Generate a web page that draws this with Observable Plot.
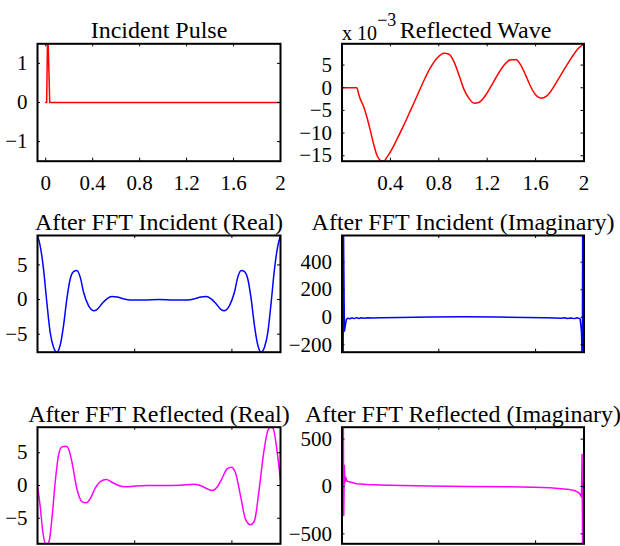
<!DOCTYPE html>
<html><head><meta charset="utf-8">
<script src="https://cdn.jsdelivr.net/npm/d3@7"></script>
<script src="https://cdn.jsdelivr.net/npm/@observablehq/plot@0.6"></script>
<style>
html,body{margin:0;padding:0;background:#fff;}
#chart{position:relative;width:620px;height:546px;overflow:hidden;}
#chart svg{position:absolute;left:0;top:0;}
</style></head><body><div id="chart"></div>
<script>
// ---- Data ----
const titles = ["Incident Pulse", "Reflected Wave", "After FFT Incident (Real)", "After FFT Incident (Imaginary)", "After FFT Reflected (Real)", "After FFT Reflected (Imaginary)"];
const exponentLabel = ["x 10", "\u22123"];

// Panel 1: incident pulse (time)
const pulseT = [0, 0.008, 0.017, 0.034, 2];
const pulseV = [0, 0, 2, 0, 0];

// Panel 2: reflected wave (values in units of 10^-3)
const reflT = [0, 0.123, 0.137, 0.15, 0.178, 0.206, 0.234, 0.261, 0.289, 0.317, 0.344, 0.372, 0.414, 0.455, 0.51, 0.566, 0.622, 0.677, 0.732, 0.788, 0.843, 0.885, 0.926, 0.968, 1.009, 1.051, 1.092, 1.134, 1.175, 1.231, 1.287, 1.342, 1.397, 1.439, 1.48, 1.522, 1.564, 1.605, 1.647, 1.688, 1.73, 1.786, 1.84, 1.896, 1.95, 2.0];
const reflV = [0, 0, -1.3, -2.4, -4.1, -6.5, -9.4, -12.4, -14.9, -16.0, -16.2, -15.3, -13.5, -11.3, -8.3, -5.0, -1.7, 1.6, 4.5, 6.6, 7.6, 7.4, 5.7, 2.7, -0.4, -2.4, -3.4, -3.2, -2.1, 0.3, 2.9, 5.1, 6.2, 6.2, 4.9, 2.5, 0, -1.7, -2.3, -1.9, -0.6, 1.8, 4.2, 6.6, 8.6, 9.7];

// Panel 3: FFT incident, real part
const incReIdx = [0, 27, 62, 96, 130, 165, 199, 233, 268, 302, 337, 371, 405, 440, 474, 525, 577, 611, 663, 714, 766, 817, 886, 955, 1092, 1250, 1408, 1545, 1614, 1683, 1734, 1786, 1837, 1889, 1923, 1975, 2026, 2060, 2095, 2129, 2163, 2198, 2232, 2267, 2301, 2335, 2370, 2404, 2438, 2473, 2500];
const incReV = [9.2, 7.8, 4.4, -0.4, -4.7, -6.9, -7.6, -6.6, -3.75, 0.1, 3.0, 4.04, 4.2, 3.2, 1.06, -0.87, -1.6, -1.44, -0.6, 0.1, 0.43, 0.38, 0.1, -0.05, -0.05, 0, -0.05, -0.05, 0.1, 0.38, 0.43, 0.1, -0.6, -1.44, -1.6, -0.87, 1.06, 3.2, 4.2, 4.04, 3.0, 0.1, -3.75, -6.6, -7.6, -6.9, -4.7, -0.4, 4.4, 7.8, 9.2];

// Panel 4: FFT incident, imaginary part
const incImIdx = [0, 12, 16, 25, 45, 62, 80, 100, 127, 150, 175, 196, 230, 265, 320, 400, 600, 900, 1250, 1600, 1900, 2100, 2200, 2262, 2300, 2330, 2365, 2400, 2430, 2460, 2474, 2479, 2483, 2486, 2500];
const incImV = [-254, -254, 594, -100, -15, -6, -12, -4, -10, -3, -9, -4, -8, -4, -6, -3, -1, 1, 3, 1, -1, -3, -5, -8, -4, -9, -5, -10, -4, -12, -105, -254, -254, 594, 594];

// Panel 5: FFT reflected, real part
const refReIdx = [0, 27, 55, 79, 103, 124, 148, 182, 216, 251, 295, 319, 354, 405, 457, 501, 543, 594, 646, 707, 766, 834, 903, 989, 1126, 1298, 1470, 1607, 1676, 1745, 1796, 1847, 1899, 1951, 1995, 2036, 2088, 2139, 2191, 2232, 2277, 2328, 2370, 2397, 2424, 2466, 2500];
const refReV = [0, -3.1, -7.1, -8.8, -8.9, -8.2, -5.1, 0.5, 4.6, 5.9, 6.0, 5.6, 3.6, -0.5, -2.45, -2.65, -2.0, -0.4, 0.6, 0.9, 0.5, 0, -0.2, -0.1, 0, 0, 0.05, 0.2, 0, -0.5, -0.77, -0.26, 1.1, 2.55, 2.8, 2.0, -1.5, -5.1, -6.0, -5.4, -1.0, 5.1, 8.4, 8.9, 8.7, 5.1, 0.8];

// Panel 6: FFT reflected, imaginary part
const refImIdx = [0, 14, 18, 24, 30, 38, 52, 93, 150, 265, 400, 609, 900, 1298, 1700, 1986, 2150, 2262, 2350, 2400, 2440, 2462, 2474, 2480, 2485, 2500];
const refImV = [626, 626, -306, 222, 40, 98, 55, 45, 30, 21, 15, 10, 5, 0, -3, -7, -14, -24, -33, -42, -62, -85, -110, 338, -605, -605];

// Axis ticks
const timeTicks = [0, 0.4, 0.8, 1.2, 1.6, 2];
const reflXTicks = [0.4, 0.8, 1.2, 1.6, 2];
const idxTicks = [1000, 2000];
const pulseYTicks = [-1, 0, 1];
const reflYTicks = [-15, -10, -5, 0, 5];
const reYTicks = [-5, 0, 5];
const incImYTicks = [-200, 0, 200, 400];
const refImYTicks = [-500, 0, 500];

// ---- Layout ----
const W = 620, H = 546;
const colL = [37, 280], colR = [341.5, 583.5];
const rows = [[43.3, 160.7], [235, 351.7], [426.7, 543.3]];
const FONT = "'Liberation Serif', 'Times New Roman', Times, serif";
const fmt = d => String(d).replace("-", "\u2212");

function panel({col, row, x, y, xDomain, yDomain, xTicks, yTicks, xLabels, color, curve = "linear", title, titleDx = 0, extra = []}) {
  const [l, r] = col, [t, b] = row;
  const fw = r - l, fh = b - t, tl = 3;
  const data = x.map((xx, i) => ({x: xx, y: y[i]}));
  return Plot.plot({
    width: W, height: H,
    marginLeft: l, marginRight: W - r, marginTop: t, marginBottom: H - b,
    style: {fontFamily: FONT, fontSize: "21px", background: "transparent", color: "black"},
    x: {domain: xDomain, axis: null, label: null},
    y: {domain: yDomain, axis: null, label: null},
    marks: [
      Plot.line(data, {x: "x", y: "y", stroke: color, strokeWidth: 1.5, curve, clip: true}),
      Plot.tickX(xTicks, {x: d => d, insetTop: fh - tl, stroke: "black"}),
      Plot.tickX(xTicks, {x: d => d, insetBottom: fh - tl, stroke: "black"}),
      Plot.tickY(yTicks, {y: d => d, insetRight: fw - tl, stroke: "black"}),
      Plot.tickY(yTicks, {y: d => d, insetLeft: fw - tl, stroke: "black"}),
      Plot.axisY({ticks: yTicks, anchor: "left", tickSize: 0, tickPadding: 10, tickFormat: fmt, label: null}),
      xLabels ? Plot.axisX({ticks: xTicks, anchor: "bottom", tickSize: 0, tickPadding: 13.6, tickFormat: fmt, label: null}) : null,
      Plot.frame({stroke: "black", strokeWidth: 2}),
      Plot.text([title], {frameAnchor: "top", dx: titleDx, dy: -22.7, fontSize: 24}),
      ...extra
    ]
  });
}

const chart = document.getElementById("chart");
chart.append(panel({col: colL, row: rows[0], x: pulseT, y: pulseV, xDomain: [-0.07, 2], yDomain: [-1.5, 1.5], xTicks: timeTicks, yTicks: pulseYTicks, xLabels: true, color: "#ff0000", title: titles[0]}));
chart.append(panel({col: colR, row: rows[0], x: reflT, y: reflV, xDomain: [0, 2], yDomain: [-16.2, 9.7], xTicks: reflXTicks, yTicks: reflYTicks, xLabels: true, color: "#ff0000", curve: "monotone-x", title: titles[1], titleDx: 12.5,
  extra: [
    Plot.text([exponentLabel[0]], {frameAnchor: "top-left", textAnchor: "start", dy: -18, fontSize: 20}),
    Plot.text([exponentLabel[1]], {frameAnchor: "top-left", textAnchor: "start", dx: 35.2, dy: -31, fontSize: 18})
  ]}));
chart.append(panel({col: colL, row: rows[1], x: incReIdx, y: incReV, xDomain: [0, 2500], yDomain: [-7.6, 9.25], xTicks: idxTicks, yTicks: reYTicks, xLabels: false, color: "#0000ff", curve: "monotone-x", title: titles[2]}));
chart.append(panel({col: colR, row: rows[1], x: incImIdx, y: incImV, xDomain: [0, 2500], yDomain: [-254, 594], xTicks: idxTicks, yTicks: incImYTicks, xLabels: false, color: "#0000ff", title: titles[3]}));
chart.append(panel({col: colL, row: rows[2], x: refReIdx, y: refReV, xDomain: [0, 2500], yDomain: [-8.9, 8.9], xTicks: idxTicks, yTicks: reYTicks, xLabels: false, color: "#ff00ff", curve: "monotone-x", title: titles[4]}));
chart.append(panel({col: colR, row: rows[2], x: refImIdx, y: refImV, xDomain: [0, 2500], yDomain: [-605, 626], xTicks: idxTicks, yTicks: refImYTicks, xLabels: false, color: "#ff00ff", title: titles[5]}));
</script>
</body></html>
